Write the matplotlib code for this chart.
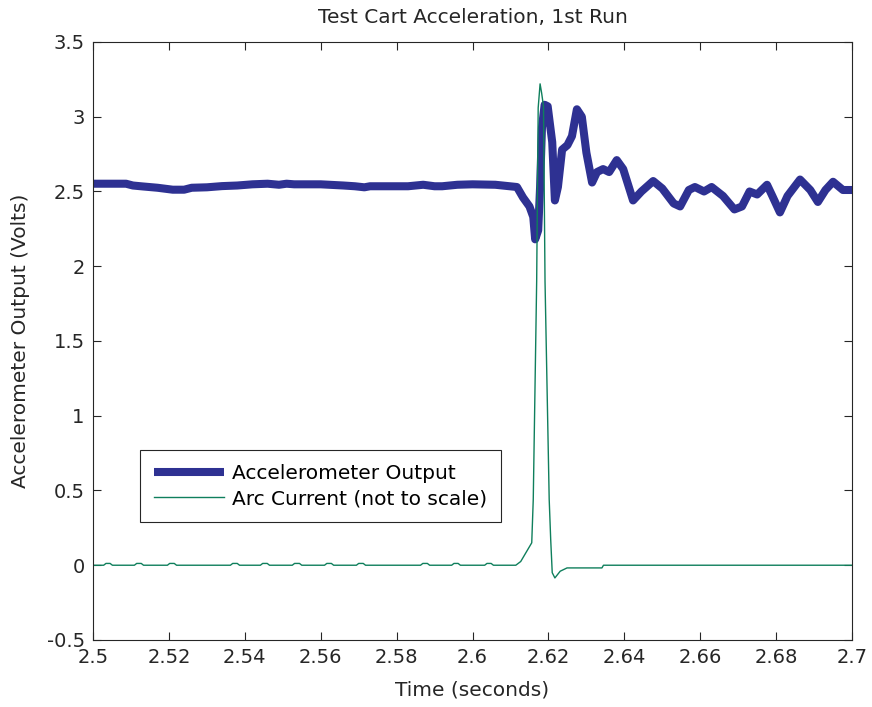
import numpy as np
import matplotlib
matplotlib.use("Agg")
import matplotlib.pyplot as plt
from matplotlib.ticker import FuncFormatter

plt.rcParams['font.family'] = ['DejaVu Sans']
plt.rcParams['axes.unicode_minus'] = False

# accelerometer output (volts)
accel_t = [2.500, 2.5087, 2.5105, 2.513, 2.517, 2.521, 2.524, 2.526, 2.530, 2.534,
           2.538, 2.542, 2.546, 2.549, 2.551, 2.553, 2.560, 2.566, 2.569, 2.5715,
           2.573, 2.583, 2.587, 2.590, 2.592, 2.596, 2.600, 2.606, 2.6117, 2.6133,
           2.615, 2.616, 2.6165, 2.6173, 2.6178, 2.6183, 2.619, 2.6198, 2.621, 2.6217,
           2.6225, 2.6236, 2.625, 2.6262, 2.6275, 2.6288, 2.630, 2.6315, 2.6328, 2.6344,
           2.636, 2.638, 2.6397, 2.6423, 2.6445, 2.6476, 2.650, 2.653, 2.6547, 2.657,
           2.6586, 2.661, 2.663, 2.666, 2.669, 2.671, 2.673, 2.675, 2.6776, 2.679,
           2.681, 2.683, 2.6863, 2.689, 2.691, 2.693, 2.695, 2.6976, 2.700]
accel_v = [2.552, 2.552, 2.540, 2.534, 2.525, 2.512, 2.512, 2.525, 2.528, 2.536,
           2.540, 2.548, 2.552, 2.545, 2.552, 2.548, 2.548, 2.540, 2.535, 2.528,
           2.535, 2.535, 2.545, 2.535, 2.535, 2.545, 2.548, 2.545, 2.530, 2.460,
           2.400, 2.330, 2.180, 2.240, 2.530, 2.930, 3.080, 3.070, 2.830, 2.440,
           2.530, 2.780, 2.810, 2.870, 3.050, 3.000, 2.760, 2.560, 2.630, 2.650,
           2.630, 2.710, 2.650, 2.440, 2.500, 2.570, 2.520, 2.420, 2.400, 2.510,
           2.530, 2.500, 2.530, 2.470, 2.380, 2.400, 2.500, 2.480, 2.545, 2.470,
           2.360, 2.470, 2.580, 2.510, 2.430, 2.510, 2.565, 2.510, 2.510]

# arc current (not to scale)
arc_t = [2.5000, 2.5028, 2.5034, 2.5045, 2.5051,
         2.5109, 2.5115, 2.5127, 2.5133,
         2.5196, 2.5202, 2.5214, 2.5220,
         2.5362, 2.5368, 2.5380, 2.5386,
         2.5441, 2.5447, 2.5459, 2.5465,
         2.5525, 2.5531, 2.5544, 2.5550,
         2.5610, 2.5616, 2.5628, 2.5634,
         2.5694, 2.5700, 2.5712, 2.5718,
         2.5863, 2.5869, 2.5881, 2.5887,
         2.5945, 2.5951, 2.5962, 2.5968,
         2.6032, 2.6038, 2.6049, 2.6055,
         2.6114, 2.6127, 2.6156, 2.6160, 2.6169, 2.6173, 2.6178, 2.6182,
         2.6187, 2.6191, 2.6202, 2.6206, 2.6210, 2.6217, 2.6231, 2.6249,
         2.6341, 2.6345, 2.7000]
arc_v = [0.0, 0.0, 0.012, 0.012, 0.0,
         0.0, 0.012, 0.012, 0.0,
         0.0, 0.012, 0.012, 0.0,
         0.0, 0.012, 0.012, 0.0,
         0.0, 0.012, 0.012, 0.0,
         0.0, 0.012, 0.012, 0.0,
         0.0, 0.012, 0.012, 0.0,
         0.0, 0.012, 0.012, 0.0,
         0.0, 0.012, 0.012, 0.0,
         0.0, 0.012, 0.012, 0.0,
         0.0, 0.012, 0.012, 0.0,
         0.0, 0.025, 0.15, 0.44, 1.9, 3.06, 3.22, 3.16,
         3.07, 1.9, 0.44, 0.17, -0.05, -0.085, -0.04, -0.018,
         -0.018, 0.0, 0.0]

fig = plt.figure(figsize=(8.72, 7.07), dpi=100)
ax = fig.add_axes([0.1067, 0.0948, 0.8704, 0.8458])

ax.plot(accel_t, accel_v, color='#2e3192', lw=5.8, solid_joinstyle='round',
        solid_capstyle='butt', label='Accelerometer Output')
ax.plot(arc_t, arc_v, color='#0f7f5c', lw=1.0, label='Arc Current (not to scale)')

ax.set_xlim(2.5, 2.7)
ax.set_ylim(-0.5, 3.5)
ax.set_xticks(np.arange(2.5, 2.7001, 0.02))
ax.set_yticks(np.arange(-0.5, 3.5001, 0.5))
fmt = FuncFormatter(lambda v, p: '%g' % round(v, 4))
ax.xaxis.set_major_formatter(fmt)
ax.yaxis.set_major_formatter(fmt)
ax.tick_params(direction='in', top=True, right=True, length=6, width=0.8,
               labelsize=14, colors='#262626', pad=6)
for s in ax.spines.values():
    s.set_color('#262626')
    s.set_linewidth(0.8)

ax.set_title('Test Cart Acceleration, 1st Run', fontsize=14.5, color='#262626', pad=14)
ax.set_xlabel('Time (seconds)', fontsize=14.5, color='#262626', labelpad=9.5)
ax.set_ylabel('Accelerometer Output (Volts)', fontsize=14.5, color='#262626', labelpad=12)

leg = ax.legend(loc='lower left', bbox_to_anchor=(0.062, 0.197), fontsize=14.5,
                fancybox=False, framealpha=1, edgecolor='#262626', handlelength=3.45,
                handletextpad=0.4, borderaxespad=0, borderpad=0.7, labelspacing=0.3)
leg.get_frame().set_linewidth(0.8)

fig.savefig('out.png', dpi=100)
